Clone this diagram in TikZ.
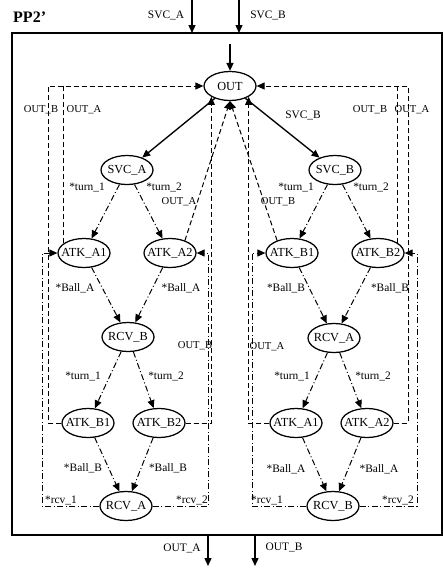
\documentclass[tikz,border=0pt]{standalone}
\usepackage{fontspec}
\setmainfont{Liberation Serif}
\usetikzlibrary{arrows.meta,shapes.geometric}
\begin{document}
\begin{tikzpicture}[x=1pt,y=-1pt,
  st/.style={draw, ellipse, line width=1.25pt, minimum width=52pt, minimum height=29pt,
     inner xsep=-6pt, inner ysep=0pt, font=\fontsize{12.3}{13}\selectfont},
  lbl/.style={font=\fontsize{11.4}{12}\selectfont, inner sep=0pt},
  olbl/.style={font=\fontsize{10.6}{11}\selectfont, inner sep=0pt},
  tip/.style={-{Triangle[length=8pt,width=7pt]}},
  solidE/.style={tip, line width=1.35pt},
  dashE/.style={tip, line width=1pt, dash pattern=on 5pt off 3pt},
  dashN/.style={line width=1pt, dash pattern=on 5pt off 3pt},
  ddE/.style={tip, line width=1pt, dash pattern=on 6pt off 2.5pt on 1pt off 2.5pt},
]
\useasboundingbox (0,0) rectangle (444,568);

% frame
\draw[line width=1.2pt] (12,33) rectangle (442,535);
\node[anchor=west, inner sep=0pt, font=\bfseries\fontsize{16}{17}\selectfont] (title) at (13,17) {PP2'};

% inputs / outputs
\coordinate (inA) at (192,0);  \coordinate (fA) at (192,33);
\coordinate (inB) at (239,0);  \coordinate (fB) at (239,33);
\coordinate (oA) at (208,535); \coordinate (eA) at (208,566);
\coordinate (oB) at (255,535); \coordinate (eB) at (255,566);
\draw[solidE] (inA) -- (fA);
\draw[solidE] (inB) -- (fB);
\draw[solidE] (oA) -- (eA);
\draw[solidE] (oB) -- (eB);
\node[lbl] (tSA) at (166,15) {SVC\_A};
\node[lbl] (tSB) at (268,15) {SVC\_B};
\node[lbl] (tOA) at (182,548) {OUT\_A};
\node[lbl] (tOB) at (284,547) {OUT\_B};

% states
\node[st] (OUT) at (230,86) {OUT};
\node[st] (SA) at (127,170) {SVC\_A};
\node[st] (SB) at (335,170) {SVC\_B};
\node[st] (A1) at (84,253) {ATK\_A1};
\node[st] (A2) at (170,253) {ATK\_A2};
\node[st] (B1) at (292,253) {ATK\_B1};
\node[st] (B2) at (378,253) {ATK\_B2};
\node[st] (RB) at (128,337) {RCV\_B};
\node[st] (RA) at (334,338) {RCV\_A};
\node[st] (B1L) at (88,423) {ATK\_B1};
\node[st] (B2L) at (159,423) {ATK\_B2};
\node[st] (A1R) at (296,423) {ATK\_A1};
\node[st] (A2R) at (367,423) {ATK\_A2};
\node[st] (RAL) at (126,506) {RCV\_A};
\node[st] (RBR) at (333,506) {RCV\_B};

% entry
\coordinate (entry) at (230,44);
\draw[solidE] (entry) -- (OUT.north);

% solid
\draw[solidE] (OUT) -- (SA);
\draw[solidE] (OUT) -- (SB);

% dash-dot transitions
\draw[ddE] (SA) -- (A1);
\draw[ddE] (SA) -- (A2);
\draw[ddE] (SB) -- (B1);
\draw[ddE] (SB) -- (B2);
\draw[ddE] (A1) -- (RB);
\draw[ddE] (A2) -- (RB);
\draw[ddE] (B1) -- (RA);
\draw[ddE] (B2) -- (RA);
\draw[ddE] (RB) -- (B1L);
\draw[ddE] (RB) -- (B2L);
\draw[ddE] (RA) -- (A1R);
\draw[ddE] (RA) -- (A2R);
\draw[ddE] (B1L) -- (RAL);
\draw[ddE] (B2L) -- (RAL);
\draw[ddE] (A1R) -- (RBR);
\draw[ddE] (A2R) -- (RBR);

% rcv loops
\coordinate (dL) at (42,253);
\coordinate (dM1) at (208,253);
\coordinate (dM2) at (252,253);
\coordinate (dR) at (417,253);
\draw[ddE] (RAL.west) -| (dL) -- (A1.west);
\draw[ddE] (RAL.east) -| (dM1) -- (A2.east);
\draw[ddE] (RBR.west) -| (dM2) -- (B1.west);
\draw[ddE] (RBR.east) -| (dR) -- (B2.east);

% dashed returns to OUT
\coordinate (kL) at (48,86);
\coordinate (kR) at (408,86);
\draw[dashE] (B1L.west) -| (kL) -- (OUT.west);
\draw[dashE] (A2R.east) -| (kR) -- (OUT.east);
\draw[dashN] (A1.155) -- (A1.155 |- OUT.west);
\draw[dashN] (B2.27) -- (B2.27 |- OUT.east);
\draw[dashE] (B2L.east) -| (OUT.-150);
\draw[dashE] (A1R.west) -| (OUT.-30);
\draw[dashE] (A2.40) -- (OUT.south);
\draw[dashE] (B1.140) -- (OUT.south);

% labels
\node[lbl] (l1) at (303,115) {SVC\_B};
\node[olbl] (l2) at (41,110) {OUT\_B};
\node[olbl] (l3) at (84,110) {OUT\_A};
\node[olbl] (l4) at (370,110) {OUT\_B};
\node[olbl] (l5) at (412,110) {OUT\_A};
\node[lbl] (l6) at (87,187) {*turn\_1};
\node[lbl] (l7) at (164,187) {*turn\_2};
\node[olbl] (l8) at (179,202) {OUT\_A};
\node[lbl] (l9) at (296,187) {*turn\_1};
\node[lbl] (l10) at (371,187) {*turn\_2};
\node[olbl] (l11) at (278,202) {OUT\_B};
\node[lbl] (l12) at (75,288) {*Ball\_A};
\node[lbl] (l13) at (181,288) {*Ball\_A};
\node[lbl] (l14) at (286,288) {*Ball\_B};
\node[lbl] (l15) at (390,288) {*Ball\_B};
\node[olbl] (l16) at (195,346) {OUT\_B};
\node[olbl] (l17) at (267,347) {OUT\_A};
\node[lbl] (l18) at (83,376) {*turn\_1};
\node[lbl] (l19) at (166,376) {*turn\_2};
\node[lbl] (l20) at (292,376) {*turn\_1};
\node[lbl] (l21) at (373,376) {*turn\_2};
\node[lbl] (l22) at (83,468) {*Ball\_B};
\node[lbl] (l23) at (168,468) {*Ball\_B};
\node[lbl] (l24) at (286,469) {*Ball\_A};
\node[lbl] (l25) at (379,469) {*Ball\_A};
\node[lbl, anchor=base] (l26) at (61,503) {*rcv\_1};
\node[lbl, anchor=base] (l27) at (192,503) {*rcv\_2};
\node[lbl, anchor=base] (l28) at (267,503) {*rcv\_1};
\node[lbl, anchor=base] (l29) at (398,503) {*rcv\_2};
\end{tikzpicture}
\end{document}
